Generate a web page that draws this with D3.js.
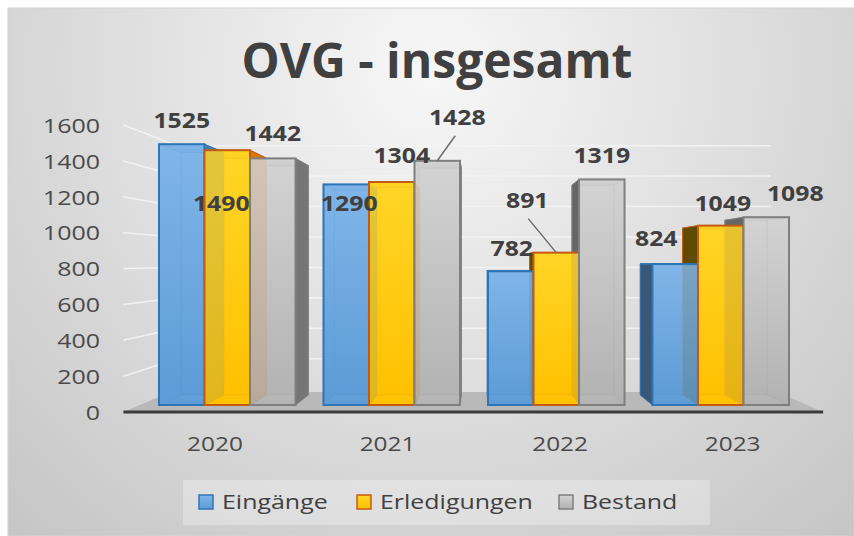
<!DOCTYPE html>
<html>
<head>
<meta charset="utf-8">
<script src="https://cdn.jsdelivr.net/npm/d3@7"></script>
<style>
  html, body { margin: 0; padding: 0; background: #ffffff; }
  svg { display: block; }
</style>
</head>
<body>
<svg id="chart" width="854" height="536"></svg>
<script>
// ---------- data ----------
const title = "OVG - insgesamt";
const years = ["2020", "2021", "2022", "2023"];
const seriesNames = ["Eingänge", "Erledigungen", "Bestand"];
const eingaenge = [1525, 1290, 782, 824];
const erledigungen = [1490, 1304, 891, 1049];
const bestand = [1442, 1428, 1319, 1098];
const yTicks = [0, 200, 400, 600, 800, 1000, 1200, 1400, 1600];

// ---------- layout / style (not data) ----------
const seriesValues = [eingaenge, erledigungen, bestand];
const W = 854, H = 536;
const VX = 478, VY = 261;          // vanishing point
const D = 0.07;                    // bar depth
const SF = -0.049;                 // floor front depth
const SB = 0.11;                   // back wall depth
const SFB = 0.09;                  // floor back depth
const wallL = 140, wallR = 807;    // front-plane x extent of floor
const styles = [
  { top: "#80b5e8", bot: "#5c9bd6", stroke: "#2e75b6", sideR: "#4a7fb0", sideL: "#3a5876", topF: "#9cc4ea" },
  { top: "#ffd526", bot: "#ffc000", stroke: "#c55a11", sideR: "#d9770f", sideL: "#5f4b00", topF: "#ffe066" },
  { top: "#d3d3d3", bot: "#b2b2b2", stroke: "#7f7f7f", sideR: "#767676", sideL: "#666666", topF: "#e0e0e0" }
];
// data-label offsets relative to the bar's top-centre [dx, dy], per series per year
const labelOffsets = [
  [[0, -24], [3, 19], [1, -23], [-19, -26]],
  [[-6, 53], [10, -27], [-29, -52], [2, -22]],
  [[0, -25], [20, -43], [0, -24], [29, -24]]
];
const leaders = [[false, false, false, false], [false, false, true, false], [false, true, false, false]];
const FONT = "'Open Sans', 'Noto Sans', sans-serif";

const svg = d3.select("#chart");
const defs = svg.append("defs");

// background
const bg = defs.append("radialGradient").attr("id", "bg")
  .attr("gradientUnits", "userSpaceOnUse").attr("cx", 430).attr("cy", 70).attr("r", 620);
bg.append("stop").attr("offset", 0).attr("stop-color", "#f7f7f7");
bg.append("stop").attr("offset", 1).attr("stop-color", "#c6c6c6");
svg.append("rect").attr("x", 0).attr("y", 0).attr("width", W).attr("height", H).attr("fill", "#ffffff");
svg.append("rect").attr("x", 8).attr("y", 8).attr("width", W - 8).attr("height", H - 8)
  .attr("fill", "url(#bg)").attr("stroke", "#d4d4d4").attr("stroke-width", 1);

styles.forEach((s, j) => {
  const g = defs.append("linearGradient").attr("id", "grad" + j)
    .attr("x1", 0).attr("y1", 0).attr("x2", 0).attr("y2", 1);
  g.append("stop").attr("offset", 0).attr("stop-color", s.top);
  g.append("stop").attr("offset", 1).attr("stop-color", s.bot);
});

// scales
const x0 = d3.scaleBand().domain(years).range([145, 803]).paddingInner(0.17).paddingOuter(0.085);
const x1 = d3.scaleBand().domain(seriesNames).range([0, x0.bandwidth()]);
const y = d3.scaleLinear().domain([0, 1600]).range([405, 131.4]);

function proj(px, py, s) { return [px + (VX - px) * s, py + (VY - py) * s]; }
const poly = pts => "M" + pts.map(p => p[0].toFixed(2) + "," + p[1].toFixed(2)).join("L") + "Z";

function stretchText(sel, sx) {
  sel.each(function () {
    const t = d3.select(this);
    const x = +t.attr("data-x"), yy = +t.attr("data-y");
    t.attr("x", 0).attr("y", 0).attr("transform", `translate(${x},${yy}) scale(${sx},1)`);
  });
}

// title
svg.append("text").attr("x", 437).attr("y", 78).attr("text-anchor", "middle")
  .attr("font-family", FONT).attr("font-weight", 700).attr("font-size", 48)
  .attr("fill", "#404040").text(title);

// gridlines (left wall + back wall)
const grid = svg.append("g");
yTicks.filter(v => v > 0).forEach(v => {
  const a = proj(wallL, y(v), SF), b = proj(wallL, y(v), SB), c = proj(wallR, y(v), SB);
  grid.append("path").attr("d", `M${a}L${b}L${c}`).attr("fill", "none")
    .attr("stroke", "#f4f4f4").attr("stroke-width", 1.5).attr("opacity", 0.9);
});

// floor
const fl = [proj(wallL, y(0), SF), proj(wallR, y(0), SF), proj(wallR, y(0), SFB), proj(wallL, y(0), SFB)];
svg.append("path").attr("d", poly(fl)).attr("fill", "#b9b9b9");
svg.append("line").attr("x1", fl[0][0]).attr("x2", fl[1][0]).attr("y1", fl[0][1]).attr("y2", fl[1][1])
  .attr("stroke", "#3c3c3c").attr("stroke-width", 3);

// axes
const yAxisScale = d3.scaleLinear().domain([0, 1600])
  .range([proj(0, y(0), SF)[1], proj(0, y(1600), SF)[1]]);
const yAx = svg.append("g").attr("transform", "translate(100,0)")
  .call(d3.axisLeft(yAxisScale).tickValues(yTicks).tickSize(0).tickPadding(0).tickFormat(d3.format("d")));
yAx.select(".domain").remove();
yAx.selectAll("text").attr("font-family", FONT).attr("font-size", 20).attr("fill", "#4a4a4a")
  .attr("x", 0).attr("dy", "0.36em").attr("transform", "scale(1.25,1)");

const xProj = d3.scaleBand().domain(years)
  .range([proj(145, 0, SF)[0], proj(803, 0, SF)[0]]).paddingInner(0.17).paddingOuter(0.085);
const xAx = svg.append("g").attr("transform", "translate(0,444)")
  .call(d3.axisBottom(xProj).tickSize(0).tickPadding(0));
xAx.select(".domain").remove();
xAx.selectAll("text").attr("font-family", FONT).attr("font-size", 20).attr("fill", "#4a4a4a")
  .attr("y", 0).attr("dy", "0.36em").attr("transform", "scale(1.22,1)");

// bars
const bars = [];
years.forEach((yr, i) => {
  seriesNames.forEach((sn, j) => {
    const v = seriesValues[j][i];
    const xl = x0(yr) + x1(sn), xr = xl + x1.bandwidth();
    const yt = y(v), yb = y(0);
    const F = { tl: [xl, yt], tr: [xr, yt], br: [xr, yb], bl: [xl, yb] };
    const B = { tl: proj(xl, yt, D), tr: proj(xr, yt, D), br: proj(xr, yb, D), bl: proj(xl, yb, D) };
    bars.push({ i, j, v, xl, xr, yt, yb, F, B });
  });
});

const hidden = svg.append("g"), visible = svg.append("g"), fronts = svg.append("g");
bars.forEach(b => {
  const s = styles[b.j], F = b.F, B = b.B;
  const faces = {
    back: [B.tl, B.tr, B.br, B.bl],
    left: [F.tl, B.tl, B.bl, F.bl],
    right: [F.tr, B.tr, B.br, F.br],
    top: [F.tl, F.tr, B.tr, B.tl],
    bottom: [F.bl, F.br, B.br, B.bl]
  };
  const leftVis = b.xl > VX, rightVis = b.xr < VX, topVis = b.yt > VY;
  const hid = (pts) => hidden.append("path").attr("d", poly(pts))
    .attr("fill", `url(#grad${b.j})`).attr("stroke", s.stroke).attr("stroke-opacity", 0.55).attr("stroke-width", 1);
  hid(faces.back); hid(faces.bottom);
  if (!leftVis) hid(faces.left);
  if (!rightVis) hid(faces.right);
  if (!topVis) hid(faces.top);
  if (leftVis) visible.append("path").attr("d", poly(faces.left)).attr("fill", s.sideL)
    .attr("stroke", s.stroke).attr("stroke-width", 1);
  if (rightVis) visible.append("path").attr("d", poly(faces.right)).attr("fill", s.sideR)
    .attr("stroke", s.stroke).attr("stroke-width", 1);
  if (topVis) visible.append("path").attr("d", poly(faces.top)).attr("fill", s.topF)
    .attr("stroke", s.stroke).attr("stroke-width", 1);
  fronts.append("rect").attr("x", b.xl).attr("y", b.yt).attr("width", b.xr - b.xl).attr("height", b.yb - b.yt)
    .attr("fill", `url(#grad${b.j})`).attr("fill-opacity", 0.84)
    .attr("stroke", s.stroke).attr("stroke-width", 2);
});

// data labels + leader lines
const labels = svg.append("g");
bars.forEach(b => {
  const off = labelOffsets[b.j][b.i];
  const cx = (b.xl + b.xr) / 2;
  const lx = cx + off[0], ly = b.yt + off[1];
  if (leaders[b.j][b.i]) {
    labels.append("line").attr("x1", lx + (b.j === 2 ? -2 : 1)).attr("y1", ly + 18)
      .attr("x2", cx).attr("y2", b.yt).attr("stroke", "#6d6d6d").attr("stroke-width", 1.5);
  }
  labels.append("text").attr("data-x", lx).attr("data-y", ly)
    .attr("text-anchor", "middle").attr("dy", "0.36em")
    .attr("font-family", FONT).attr("font-weight", 700).attr("font-size", 21)
    .attr("fill", "#404040").text(b.v);
});
stretchText(labels.selectAll("text"), 1.18);

// legend
const leg = svg.append("g");
leg.append("rect").attr("x", 183).attr("y", 480).attr("width", 527).attr("height", 45)
  .attr("fill", "#ffffff").attr("opacity", 0.28);
const legX = [199, 357, 559];
seriesNames.forEach((sn, j) => {
  leg.append("rect").attr("x", legX[j]).attr("y", 495).attr("width", 14).attr("height", 14)
    .attr("fill", `url(#grad${j})`).attr("stroke", styles[j].stroke).attr("stroke-width", 1.5);
  leg.append("text").attr("data-x", legX[j] + 23).attr("data-y", 502).attr("dy", "0.36em")
    .attr("font-family", FONT).attr("font-size", 19.5).attr("fill", "#404040").text(sn);
});
stretchText(leg.selectAll("text"), 1.28);
</script>
</body>
</html>
